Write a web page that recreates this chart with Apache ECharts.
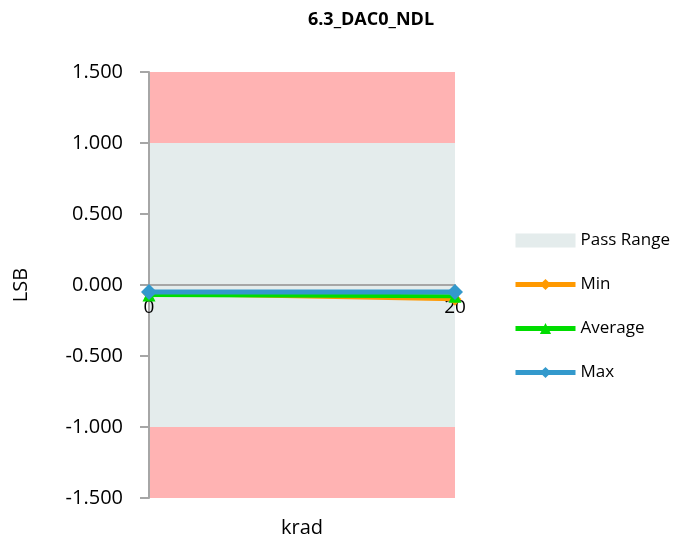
<!DOCTYPE html>
<html>
<head>
<meta charset="utf-8">
<script src="https://cdn.jsdelivr.net/npm/echarts@6/dist/echarts.min.js"></script>
<style>
    html, body { margin: 0; padding: 0; background: #fff; }
    #chart { width: 681px; height: 536px; }
</style>
</head>
<body>
<div id="chart"></div>
<script>
    var categories = ['0', '20'];
    var minValues = [-0.06, -0.10];
    var avgValues = [-0.07, -0.08];
    var maxValues = [-0.05, -0.05];
    var passRange = [-1, 1];
    var axisRange = [-1.5, 1.5];

    var font = '"Open Sans", "Noto Sans", sans-serif';
    var myChart = echarts.init(document.getElementById('chart'));

    // grid is 426px tall for 3 LSB, so zero sits 213px above the bottom
    var zeroOffset = -213;

    var option = {
        animation: false,
        title: {
            text: '6.3_DAC0_NDL',
            left: 366,
            textAlign: 'center',
            top: 6,
            textStyle: { fontFamily: font, fontSize: 18, fontWeight: 'bold', color: '#000' }
        },
        legend: {
            orient: 'vertical',
            left: 508,
            top: 227,
            itemGap: 27,
            itemWidth: 60,
            itemHeight: 14,
            textStyle: { fontFamily: font, fontSize: 17, color: '#000' },
            data: [
                { name: 'Pass Range', icon: 'rect', itemStyle: { color: '#E4ECEC' } },
                { name: 'Min', lineStyle: { width: 5 } },
                { name: 'Average', lineStyle: { width: 5 } },
                { name: 'Max', lineStyle: { width: 5 } }
            ]
        },
        grid: { left: 149, right: 226, top: 72, bottom: 38, outerBoundsMode: 'none', containLabel: false },
        xAxis: {
            type: 'category',
            data: categories,
            boundaryGap: false,
            offset: zeroOffset,
            z: 3,
            name: 'krad',
            nameLocation: 'middle',
            nameGap: 233,
            nameTextStyle: { fontFamily: font, fontSize: 20, color: '#000' },
            axisLine: { onZero: false, lineStyle: { color: '#A6A6A6', width: 2 } },
            axisTick: { show: false },
            axisLabel: { fontFamily: font, fontSize: 19, color: '#000', margin: 13 }
        },
        yAxis: {
            type: 'value',
            min: axisRange[0],
            max: axisRange[1],
            interval: 0.5,
            z: 3,
            name: 'LSB',
            nameLocation: 'middle',
            nameGap: 118,
            nameTextStyle: { fontFamily: font, fontSize: 20, color: '#000' },
            axisLine: { show: true, lineStyle: { color: '#A6A6A6', width: 2 } },
            axisTick: { show: true, length: 9, lineStyle: { color: '#A6A6A6', width: 2 } },
            splitLine: { show: false },
            axisLabel: {
                fontFamily: font, fontSize: 20, color: '#000', margin: 26,
                formatter: function (v) { return v.toFixed(3); }
            }
        },
        series: [
            {
                name: 'Pass Range',
                type: 'line',
                data: [],
                z: 1,
                itemStyle: { color: '#E4ECEC' },
                markArea: {
                    silent: true,
                    z: 1,
                    data: [
                        [{ yAxis: passRange[1], itemStyle: { color: '#FFB3B3', opacity: 1 } }, { yAxis: axisRange[1] }],
                        [{ yAxis: passRange[0], itemStyle: { color: '#E4ECEC', opacity: 1 } }, { yAxis: passRange[1] }],
                        [{ yAxis: axisRange[0], itemStyle: { color: '#FFB3B3', opacity: 1 } }, { yAxis: passRange[0] }]
                    ]
                }
            },
            {
                name: 'Min',
                type: 'line',
                data: minValues,
                symbol: 'diamond',
                symbolSize: 13,
                color: '#FF9900',
                lineStyle: { width: 4 },
                z: 5
            },
            {
                name: 'Average',
                type: 'line',
                data: avgValues,
                symbol: 'triangle',
                symbolSize: 13,
                color: '#00DD00',
                lineStyle: { width: 4 },
                z: 6
            },
            {
                name: 'Max',
                type: 'line',
                data: maxValues,
                symbol: 'diamond',
                symbolSize: 16,
                color: '#3399CC',
                lineStyle: { width: 5 },
                z: 7
            }
        ]
    };
    myChart.setOption(option);
</script>
</body>
</html>
